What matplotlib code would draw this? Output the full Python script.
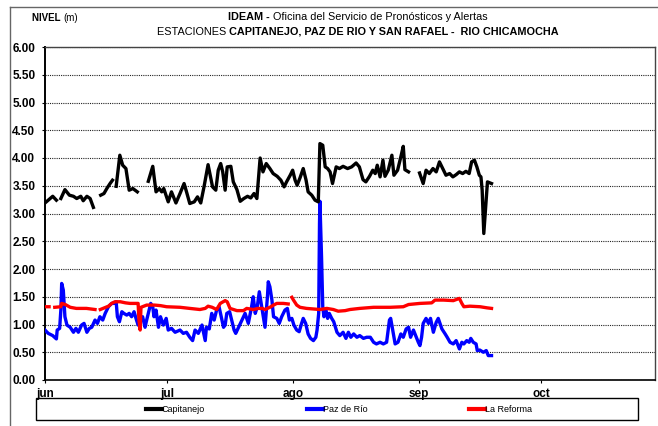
import matplotlib
matplotlib.use("Agg")
import matplotlib.pyplot as plt
import numpy as np
from matplotlib import font_manager
from matplotlib.lines import Line2D
from matplotlib.patches import Rectangle

nan = np.nan

# ---------------- data (x = days since 1 June) ----------------
month_ticks = [0, 30, 61, 92, 122]
month_labels = ["jun", "jul", "ago", "sep", "oct"]
y_ticks = [0, 0.5, 1, 1.5, 2, 2.5, 3, 3.5, 4, 4.5, 5, 5.5, 6]

cap_day = [0, 0.8, 1.9, 2.8, 3.3, 3.9, 4.9, 6.0, 7.0, 7.8, 8.8, 9.4, 10.3, 11.1, 11.9, 12.6,
           13.7, 14.5, 15.2, 16.0, 16.6, 17.0, 17.5, 18.4, 19.1, 19.9, 20.7, 21.6, 22.7, 23.7,
           25.4, 26.5, 27.3, 28.1, 28.7, 29.2, 30.3, 31.1, 32.2, 33.2, 34.2, 34.8, 35.6, 36.7,
           37.5, 38.3, 39.1, 40.1, 41.2, 42.0, 42.6, 43.2, 43.7, 44.3, 44.8, 45.7, 46.3, 47.2,
           48.0, 48.9, 49.8, 50.6, 51.4, 52.1, 52.9, 53.6, 54.4, 55.3, 56.1, 57.1, 58.0, 58.8, 59.4,
           60.3, 60.9, 61.5, 62.0, 62.7, 63.5, 64.2, 64.7, 65.6, 66.4, 67.2, 67.6, 68.3, 68.9,
           69.5, 70.1, 70.7, 71.6, 72.4, 73.3, 74.4, 75.4, 76.5, 77.3, 78.2, 78.9, 79.8, 80.6,
           81.2, 81.7, 82.4, 83.1, 83.6, 84.4, 85.3, 85.8, 86.7, 87.5, 88.1, 88.5,
           89.4, 90.5, 92.1, 93.0, 93.7, 94.5, 95.4, 96.2, 97.0, 97.8, 98.6, 99.5,
           100.3, 101.1, 101.9, 102.7, 103.5, 104.3, 104.9, 105.6, 106.2, 106.8, 107.2, 107.5, 107.9,
           108.8, 109.8]
cap_val = [3.19, 3.24, 3.31, 3.24, nan, 3.27, 3.43, 3.33, 3.31, 3.27, 3.31, 3.23, 3.31, 3.27, 3.11, nan,
           3.33, 3.36, 3.45, 3.54, 3.60, nan, 3.49, 4.05, 3.87, 3.81, 3.42, 3.45, 3.39, nan,
           3.58, 3.85, 3.39, 3.45, 3.39, 3.45, 3.21, 3.39, 3.19, 3.36, 3.54, 3.39, 3.18, 3.21,
           3.30, 3.19, 3.48, 3.88, 3.48, 3.42, 3.78, 3.90, 3.75, 3.42, 3.84, 3.85, 3.57, 3.43,
           3.22, 3.27, 3.31, 3.28, 3.36, 3.27, 4.00, 3.75, 3.90, 3.81, 3.72, 3.67, 3.60, 3.48, 3.57,
           3.69, 3.78, 3.60, 3.51, 3.64, 3.81, 3.60, 3.39, 3.33, 3.24, 3.21, 4.26, 4.23, 3.84,
           3.81, 3.75, 3.54, 3.84, 3.81, 3.85, 3.81, 3.84, 3.91, 3.84, 3.61, 3.57, 3.67, 3.78,
           3.72, 3.87, 3.66, 3.96, 3.67, 3.78, 4.05, 3.69, 3.78, 4.02, 4.21, 3.79,
           3.75, nan, 3.73, 3.54, 3.78, 3.72, 3.81, 3.75, 3.93, 3.81, 3.69, 3.72,
           3.66, 3.70, 3.75, 3.72, 3.76, 3.72, 3.93, 3.96, 3.84, 3.69, 3.66, 3.42, 2.64,
           3.57, 3.54]

paz_day = [0, 0.8, 1.9, 2.8, 3.0, 3.6, 3.9, 4.1, 4.5, 4.9, 5.4, 6.2, 7.0, 7.6, 8.2, 9.0, 9.6,
           10.3, 10.9, 11.5, 12.3, 12.9, 13.5, 14.2, 14.8, 15.6, 16.4, 17.0, 17.5, 17.8, 18.3, 18.9,
           19.4, 20.1, 20.7, 21.3, 21.9, 22.5, 22.9, 23.4, 24.0, 24.6, 25.0, 25.4, 26.0, 26.5, 26.8,
           27.3, 27.9, 28.4, 29.1, 29.8, 30.3, 31.1, 32.0, 33.2, 34.0, 34.8, 35.6, 36.3, 36.9, 37.7, 38.6,
           39.4, 39.7, 40.4, 41.0, 41.6, 42.2, 42.8, 43.5, 43.9, 44.3, 44.7, 45.4, 45.9, 46.5, 46.9,
           47.6, 48.4, 49.2, 50.0, 50.8, 51.2, 51.7, 52.2, 52.7, 53.7, 54.1, 54.7, 54.9, 55.3, 55.8,
           56.2, 57.0, 57.6, 58.2, 59.0, 59.6, 60.1, 60.7, 61.2, 61.9, 62.5, 63.1, 63.5, 64.1, 64.7,
           65.3, 66.0, 66.6, 66.9, 67.3, 67.5, 67.6, 68.0, 68.3, 68.6, 69.1, 69.5, 69.9, 70.5, 71.0,
           71.8, 72.5, 73.3, 74.0, 74.6, 75.2, 75.9, 76.7, 77.4, 78.3, 79.1, 80.0, 80.8, 81.5, 82.4,
           83.2, 84.0, 84.7, 85.0, 85.5, 86.1, 86.8, 87.5, 88.1, 88.8, 89.4, 89.9,
           90.6, 91.3, 91.8, 92.2, 92.6, 93.0, 93.7, 94.3, 94.8, 95.5, 96.2, 96.7,
           97.6, 98.4, 98.9, 99.6, 100.4, 101.1, 101.9, 102.5, 103.0, 103.7, 104.3, 104.7, 105.3,
           106.0, 106.3, 106.9, 107.8, 108.5, 109.0, 109.8]
paz_val = [0.90, 0.84, 0.80, 0.74, 0.90, 0.93, 1.26, 1.74, 1.62, 1.14, 0.99, 0.95, 0.86, 0.93, 0.86, 0.99, 1.02,
           0.86, 0.93, 0.95, 1.08, 1.02, 1.14, 1.08, 1.20, 1.32, 1.38, 1.38, 1.41, 1.14, 1.05, 1.23,
           1.20, 1.17, 1.20, 1.14, 1.23, 1.08, 0.99, 1.05, 1.14, 0.95, 1.08, 1.20, 1.38, 1.32, 1.14,
           1.26, 0.95, 1.14, 0.99, 1.11, 0.90, 0.93, 0.86, 0.90, 0.84, 0.86, 0.77, 0.71, 0.90, 0.84, 0.99,
           0.71, 0.95, 0.92, 1.20, 1.08, 1.26, 1.32, 1.08, 0.95, 0.99, 1.20, 1.23, 1.08, 0.90, 0.84,
           0.95, 1.08, 1.20, 1.02, 1.32, 1.50, 1.20, 1.32, 1.59, 1.14, 0.95, 1.50, 1.77, 1.68, 1.44,
           1.14, 1.11, 1.02, 1.14, 1.26, 1.29, 1.08, 1.11, 0.99, 0.90, 0.87, 1.02, 1.11, 1.02, 0.83,
           0.75, 0.71, 0.77, 0.90, 1.20, 2.82, 3.22, 2.22, 1.32, 1.14, 1.26, 1.11, 1.20, 1.11, 1.05,
           0.86, 0.80, 0.86, 0.75, 0.86, 0.77, 0.83, 0.77, 0.80, 0.75, 0.77, 0.77, 0.68, 0.65, 0.68,
           0.65, 0.68, 1.08, 1.11, 0.90, 0.65, 0.68, 0.83, 0.77, 0.92, 0.95, 0.77,
           0.90, 0.77, 0.68, 0.62, 0.77, 1.02, 1.11, 1.02, 1.11, 0.86, 1.04, 1.11,
           0.92, 0.83, 0.77, 0.68, 0.65, 0.71, 0.56, 0.68, 0.65, 0.71, 0.68, 0.75, 0.68,
           0.65, 0.53, 0.54, 0.50, 0.53, 0.44, 0.44]

ref_day = [0, 1.0, 1.7, 2.4, 3.9, 4.1, 5.0, 6.2, 7.7, 10.2, 12.3, 13.0, 13.6, 15.6, 16.4, 17.2,
           18.5, 19.8, 20.9, 22.5, 22.9, 23.1, 23.4, 23.6, 25.0, 26.9, 28.4, 29.9, 33.2, 35.6, 38.1, 39.4,
           40.1, 41.1, 42.2, 43.1, 44.3, 44.8, 45.5, 47.2, 48.8, 49.6, 51.2, 52.4, 53.4, 54.1, 55.3,
           56.2, 57.0, 58.6, 59.8, 60.5, 60.7, 61.1, 61.9, 62.7, 64.3, 67.6, 69.3, 70.9, 72.1,
           73.8, 75.0, 77.4, 80.8, 84.9, 88.1, 89.4, 92.2, 95.1, 95.9, 98.0, 100.4, 101.9,
           102.5, 103.0, 104.5, 107.0, 108.7, 109.8]
ref_val = [1.32, 1.32, nan, 1.31, 1.32, 1.38, 1.36, 1.31, 1.29, 1.29, 1.27, nan, 1.27, 1.33, 1.38, 1.41,
           1.41, 1.39, 1.38, 1.38, 1.38, 1.08, 0.90, 1.31, 1.35, 1.35, 1.34, 1.32, 1.31, 1.29, 1.27, 1.29,
           1.33, 1.31, 1.27, 1.38, 1.43, 1.41, 1.29, 1.25, 1.25, 1.29, 1.27, 1.29, 1.29, 1.27, 1.31,
           1.35, 1.38, 1.38, 1.37, nan, 1.49, 1.44, 1.35, 1.31, 1.29, 1.27, 1.29, 1.27, 1.24,
           1.25, 1.27, 1.29, 1.31, 1.31, 1.32, 1.36, 1.38, 1.39, 1.44, 1.44, 1.43, 1.47,
           1.38, 1.32, 1.33, 1.32, 1.30, 1.29]

series_names = ["Capitanejo", "Paz de Río", "La Reforma"]
series_colors = ["#000000", "#0000FF", "#FF0000"]

# ---------------- fonts ----------------
names = {f.name for f in font_manager.fontManager.ttflist}
narrow = "Liberation Sans Narrow" if "Liberation Sans Narrow" in names else "Liberation Sans"
plt.rcParams["font.family"] = [narrow, "DejaVu Sans"]

W, H = 658, 426
fig = plt.figure(figsize=(W / 100, H / 100), dpi=100)
ax = fig.add_axes([45 / W, 1 - 380 / H, 610 / W, 333 / H])

lw = 2.4
ax.plot(paz_day, paz_val, color=series_colors[1], lw=lw, zorder=3)
ax.plot(ref_day, ref_val, color=series_colors[2], lw=lw, zorder=4)
ax.plot(cap_day, cap_val, color=series_colors[0], lw=lw, zorder=5)

ax.set_xlim(0, 150)
ax.set_ylim(0, 6)
ax.set_yticks(y_ticks)
ax.set_yticklabels([f"{v:.2f}" for v in y_ticks], fontsize=8.5, fontweight="bold")
ax.set_xticks(month_ticks)
ax.set_xticklabels(month_labels, fontsize=8.5, fontweight="bold")
ax.tick_params(axis="both", direction="out", length=2.5, width=0.8, color="black")
ax.tick_params(axis="y", pad=4.5)
ax.tick_params(axis="x", pad=3)
ax.yaxis.grid(True, linestyle=(0, (1, 1)), color="#222222", lw=0.8)
ax.set_axisbelow(True)
for s in ["top", "right"]:
    ax.spines[s].set_color("#444444")
    ax.spines[s].set_linewidth(1.0)
ax.spines["left"].set_linewidth(1.4)
ax.spines["bottom"].set_linewidth(1.2)

# ---------------- figure border ----------------
fig.add_artist(Line2D([10 / W, 1], [1 - 7 / H] * 2, transform=fig.transFigure, color="#666666", lw=1))
fig.add_artist(Line2D([10 / W] * 2, [0, 1 - 7 / H], transform=fig.transFigure, color="#666666", lw=1))

renderer = fig.canvas.get_renderer()


def rich_line(parts, cx, cy, size):
    """parts: list of (text, weight); centred horizontally at pixel cx."""
    texts = []
    for t, w in parts:
        texts.append(fig.text(0, cy / H, t, fontsize=size, fontweight=w, ha="left", va="center"))
    widths = [tx.get_window_extent(renderer).width for tx in texts]
    x = cx - sum(widths) / 2
    for tx, wd in zip(texts, widths):
        tx.set_x(x / W)
        x += wd


rich_line([("IDEAM - ", "bold"), ("Oficina del Servicio de Pronósticos y Alertas", "normal")],
          358, H - 17, 7.8)
rich_line([("ESTACIONES ", "normal"),
           ("CAPITANEJO, PAZ DE RIO Y SAN RAFAEL -  RIO CHICAMOCHA", "bold")],
          358, H - 32, 7.8)

t1 = fig.text(32 / W, 1 - 18 / H, "NIVEL ", fontsize=7, fontweight="bold", ha="left", va="center")
w1 = t1.get_window_extent(renderer).width
fig.text((32 + w1) / W, 1 - 18 / H, "(m)", fontsize=7, ha="left", va="center")

# ---------------- legend ----------------
fig.add_artist(Rectangle((36 / W, 6 / H), 602 / W, 22 / H, transform=fig.transFigure,
                         fill=False, edgecolor="black", lw=1))
leg_x = [146, 307, 469]
for name, col, lx in zip(series_names, series_colors, leg_x):
    fig.add_artist(Line2D([lx / W, (lx + 16) / W], [17 / H] * 2, transform=fig.transFigure,
                          color=col, lw=3))
    fig.text((lx + 16) / W, 17 / H, name, fontsize=6.5, ha="left", va="center")

fig.savefig("out.png", dpi=100)
